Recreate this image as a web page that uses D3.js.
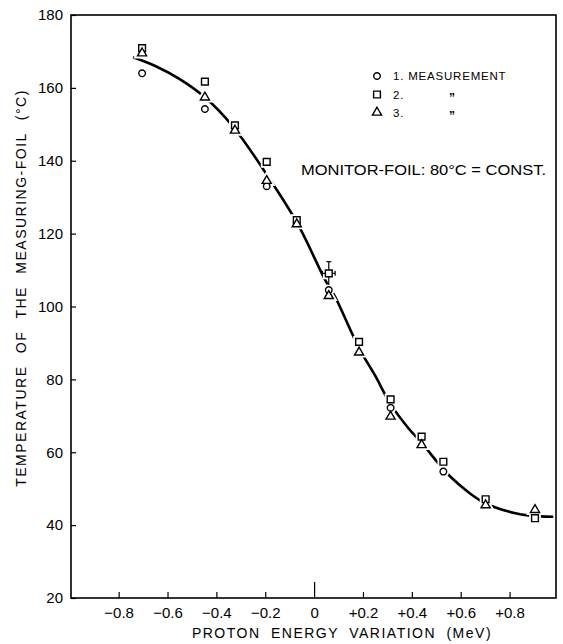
<!DOCTYPE html>
<html><head><meta charset="utf-8">
<script src="https://cdn.jsdelivr.net/npm/d3@7/dist/d3.min.js"></script>
<style>body{margin:0;background:#fff}svg{display:block}</style>
</head><body>
<svg id="c" width="563" height="644"></svg>
<script>
// ---- data ----
const energies = [-0.704, -0.447, -0.324, -0.194, -0.071, 0.06, 0.184, 0.313, 0.44, 0.529, 0.702, 0.904];
const meas1 = [164.0, 154.2, null, 133.0, null, 104.5, null, 72.2, null, 54.7, null, null];   // circles
const meas2 = [170.9, 161.7, 149.7, 139.7, 123.7, 109.1, 90.3, 74.5, 64.3, 57.4, 47.1, 41.9]; // squares
const meas3 = [169.5, 157.4, 148.3, 134.5, 122.6, 102.9, 87.4, 69.8, 62.0, null, 45.5, 44.2]; // triangles
const curveX = [-0.741, -0.65, -0.55, -0.447, -0.33, -0.19, -0.07, 0.049, 0.085, 0.184, 0.25, 0.313, 0.386, 0.44, 0.508, 0.556, 0.638, 0.706, 0.815, 0.884, 0.979];
const curveY = [168.4, 166.0, 162.4, 157.4, 149.2, 135.8, 123.0, 106.8, 102.8, 88.6, 81.0, 73.2, 66.6, 62.6, 57.0, 53.4, 48.7, 45.8, 43.4, 42.6, 42.3];
const errPoint = {x: 0.06, y: 109.1, dx: 0.026, dyUp: 3.2, dyDown: 3.2};
const xTicks = [-0.8, -0.6, -0.4, -0.2, 0, 0.2, 0.4, 0.6, 0.8];
const xTickLabels = ["\u22120.8", "\u22120.6", "\u22120.4", "\u22120.2", "0", "+0.2", "+0.4", "+0.6", "+0.8"];
const yTicks = [20, 40, 60, 80, 100, 120, 140, 160, 180];
const legendLabels = ["1. MEASUREMENT", "2.", "3."];

const svg = d3.select("#c");
const FONT = "'Liberation Sans', Arial, sans-serif";
const x = d3.scaleLinear().domain([-0.995, 0.99]).range([71, 556]);
const y = d3.scaleLinear().domain([20, 180]).range([598, 15]);

// frame
svg.append("rect").attr("x", x.range()[0]).attr("y", y.range()[1])
  .attr("width", x.range()[1] - x.range()[0]).attr("height", y.range()[0] - y.range()[1])
  .attr("fill", "none").attr("stroke", "#000").attr("stroke-width", 1.6);

// x axis
const xa = svg.append("g").attr("transform", `translate(0,${y.range()[0]})`)
  .call(d3.axisBottom(x).tickValues(xTicks).tickSize(-6).tickPadding(9)
    .tickFormat((d, i) => xTickLabels[i]));
xa.select(".domain").remove();
xa.selectAll(".tick line").attr("stroke-width", 1.2).attr("y2", d => d === 0 ? -16 : -6);
xa.selectAll(".tick text").attr("font-family", FONT).attr("font-size", 15).attr("fill", "#000");

// y axis
const ya = svg.append("g").attr("transform", `translate(${x.range()[0]},0)`)
  .call(d3.axisLeft(y).tickValues(yTicks).tickSize(-5).tickPadding(8));
ya.select(".domain").remove();
ya.selectAll(".tick line").attr("stroke-width", 1.2);
ya.selectAll(".tick text").attr("font-family", FONT).attr("font-size", 15).attr("fill", "#000");

// axis titles
svg.append("text").attr("transform", "translate(26,288) rotate(-90)")
  .attr("text-anchor", "middle").attr("font-family", FONT).attr("font-size", 14)
  .attr("letter-spacing", 1.5).attr("word-spacing", 7)
  .text("TEMPERATURE OF THE MEASURING-FOIL (\u00B0C)");
svg.append("text").attr("x", 342).attr("y", 638)
  .attr("text-anchor", "middle").attr("font-family", FONT).attr("font-size", 14)
  .attr("letter-spacing", 1.5).attr("word-spacing", 5)
  .text("PROTON ENERGY VARIATION (MeV)");

// fitted curve
const curvePts = curveX.map((v, i) => [v, curveY[i]]);
svg.append("path").datum(curvePts)
  .attr("d", d3.line().x(d => x(d[0])).y(d => y(d[1])).curve(d3.curveCatmullRom.alpha(0.5)))
  .attr("fill", "none").attr("stroke", "#000").attr("stroke-width", 2.6);

// markers
const sym = {
  c: d3.symbol().type(d3.symbolCircle).size(34),
  s: d3.symbol().type(d3.symbolSquare).size(46),
  t: d3.symbol().type(d3.symbolTriangle).size(36)
};
const pts = [];
energies.forEach((e, i) => {
  if (meas1[i] != null) pts.push({x: e, y: meas1[i], k: "c"});
  if (meas2[i] != null) pts.push({x: e, y: meas2[i], k: "s"});
  if (meas3[i] != null) pts.push({x: e, y: meas3[i], k: "t"});
});
// white halos to cut the curve around the markers
svg.append("g").selectAll("path").data(pts).join("path")
  .attr("transform", d => `translate(${x(d.x)},${y(d.y)})`)
  .attr("d", d => sym[d.k]()).attr("fill", "#fff").attr("stroke", "#fff").attr("stroke-width", 5);

// error bars
const eb = svg.append("g").attr("stroke", "#000").attr("stroke-width", 1.2);
eb.append("line").attr("x1", x(errPoint.x)).attr("x2", x(errPoint.x))
  .attr("y1", y(errPoint.y + errPoint.dyUp)).attr("y2", y(errPoint.y - errPoint.dyDown));
eb.append("line").attr("x1", x(errPoint.x) - 2.5).attr("x2", x(errPoint.x) + 2.5)
  .attr("y1", y(errPoint.y + errPoint.dyUp)).attr("y2", y(errPoint.y + errPoint.dyUp));
eb.append("line").attr("x1", x(errPoint.x - errPoint.dx)).attr("x2", x(errPoint.x + errPoint.dx))
  .attr("y1", y(errPoint.y)).attr("y2", y(errPoint.y));
eb.append("line").attr("x1", x(errPoint.x + errPoint.dx)).attr("x2", x(errPoint.x + errPoint.dx))
  .attr("y1", y(errPoint.y) - 2.5).attr("y2", y(errPoint.y) + 2.5);
eb.append("line").attr("x1", x(errPoint.x - errPoint.dx)).attr("x2", x(errPoint.x - errPoint.dx))
  .attr("y1", y(errPoint.y) - 2.5).attr("y2", y(errPoint.y) + 2.5);

svg.append("g").selectAll("path").data(pts).join("path")
  .attr("transform", d => `translate(${x(d.x)},${y(d.y)})`)
  .attr("d", d => sym[d.k]()).attr("fill", "#fff").attr("stroke", "#000").attr("stroke-width", 1.4);

// legend
const lg = svg.append("g");
const kinds = ["c", "s", "t"];
const rowY = [76, 94.5, 112.5];
kinds.forEach((k, i) => {
  lg.append("path").attr("transform", `translate(377,${rowY[i]})`).attr("d", sym[k]())
    .attr("fill", "#fff").attr("stroke", "#000").attr("stroke-width", 1.4);
  lg.append("text").attr("x", 393).attr("y", rowY[i] + 4).attr("font-family", FONT)
    .attr("font-size", 11.5).attr("letter-spacing", 0.8).text(legendLabels[i]);
  if (i > 0) lg.append("text").attr("x", 449).attr("y", rowY[i] + 7).attr("font-family", FONT)
    .attr("font-size", 12).attr("font-weight", "bold").text("\u201D");
});

// annotation
svg.append("text").attr("x", 301).attr("y", 175).attr("font-family", FONT).attr("font-size", 14.5)
  .attr("textLength", 245).attr("lengthAdjust", "spacingAndGlyphs")
  .text("MONITOR-FOIL: 80\u00B0C = CONST.");
</script>
</body></html>
